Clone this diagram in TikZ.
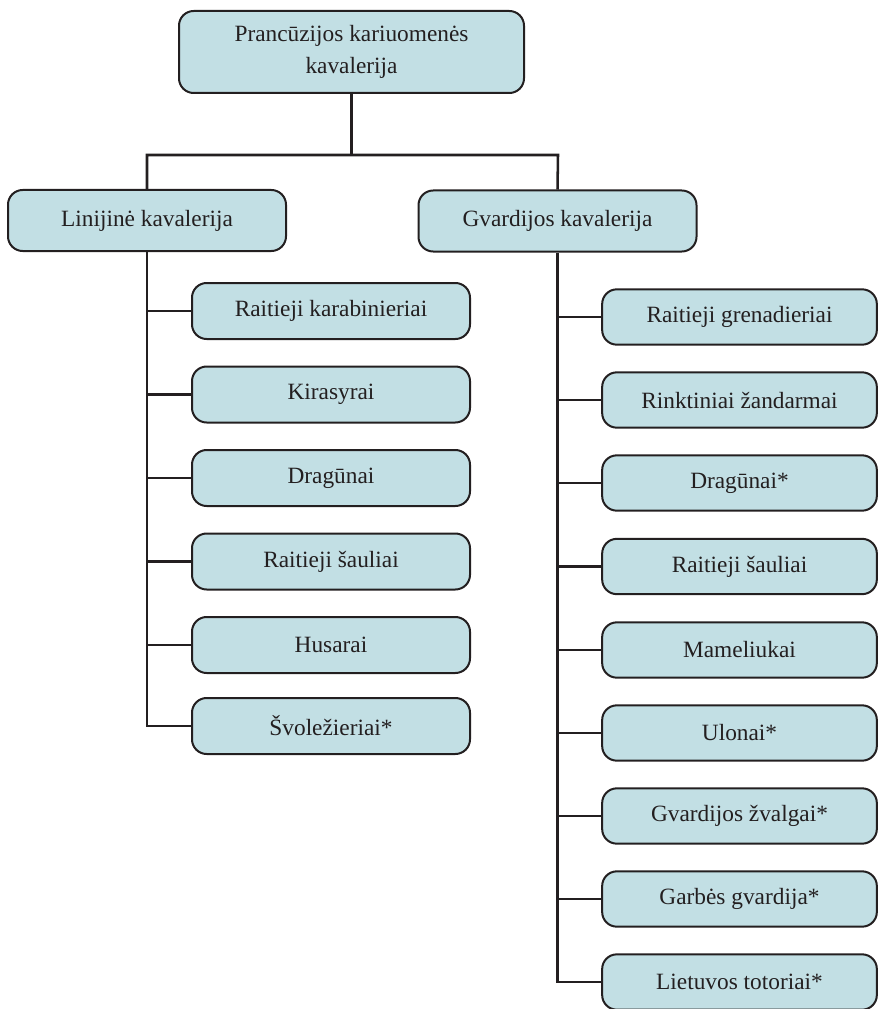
\documentclass[tikz,border=0pt]{standalone}
\usepackage{fontspec}
\setmainfont{Liberation Serif}
\definecolor{boxfill}{RGB}{194,223,228}
\definecolor{ink}{RGB}{35,31,32}
\begin{document}
\begin{tikzpicture}[x=0.75pt,y=-0.75pt,
  base/.style={draw=ink,line width=1.5pt,fill=boxfill,rounded corners=11pt,text=ink,
    font=\fontsize{17.5}{24}\selectfont,align=center,inner sep=0pt},
  topbox/.style={base,minimum width=258.75pt,minimum height=61.5pt},
  midbox/.style={base,minimum width=208.5pt,minimum height=45.75pt},
  lbox/.style={base,minimum width=208.5pt,minimum height=42pt},
  rbox/.style={base,minimum width=206pt,minimum height=41.5pt},
  conn/.style={draw=ink,line width=1.9pt}]
\useasboundingbox (0,0) rectangle (878,1009);
\node[topbox] (top) at (351.5,52) {Prancūzijos kariuomenės\\kavalerija};
\node[midbox] (lin) at (147,220.5) {Linijinė kavalerija};
\node[midbox] (gv) at (557.5,221) {Gvardijos kavalerija};
\coordinate (busL) at (147,155);
\coordinate (busR) at (558,155);
\draw[conn] (top.south) -- (top.south |- busL);
\draw[conn,line join=miter] (lin.north) -- (busL) -- (busR) -- (gv.north);
% left children
\node[lbox] (l1) at (331,311) {Raitieji karabinieriai};
\node[lbox] (l2) at (331,394.5) {Kirasyrai};
\node[lbox] (l3) at (331,478) {Dragūnai};
\node[lbox] (l4) at (331,561.5) {Raitieji šauliai};
\node[lbox] (l5) at (331,645) {Husarai};
\node[lbox] (l6) at (331,726) {Švoležieriai*};
\draw[conn,line join=miter] (lin.south) -- (lin.south |- l6.west) -- (l6.west);
\foreach \n in {l1,l2,l3,l4,l5}{\draw[conn] (lin.south |- \n.west) -- (\n.west);}
% right children
\node[rbox] (r1) at (739.5,317) {Raitieji grenadieriai};
\node[rbox] (r2) at (739.5,400) {Rinktiniai žandarmai};
\node[rbox] (r3) at (739.5,483) {Dragūnai*};
\node[rbox] (r4) at (739.5,566.5) {Raitieji šauliai};
\node[rbox] (r5) at (739.5,650) {Mameliukai};
\node[rbox] (r6) at (739.5,733) {Ulonai*};
\node[rbox] (r7) at (739.5,816) {Gvardijos žvalgai*};
\node[rbox] (r8) at (739.5,899) {Garbės gvardija*};
\node[rbox] (r9) at (739.5,982) {Lietuvos totoriai*};
\draw[conn,line join=miter] (gv.south) -- (gv.south |- r9.west) -- (r9.west);
\foreach \n in {r1,r2,r3,r4,r5,r6,r7,r8}{\draw[conn] (gv.south |- \n.west) -- (\n.west);}
\end{tikzpicture}
\end{document}
